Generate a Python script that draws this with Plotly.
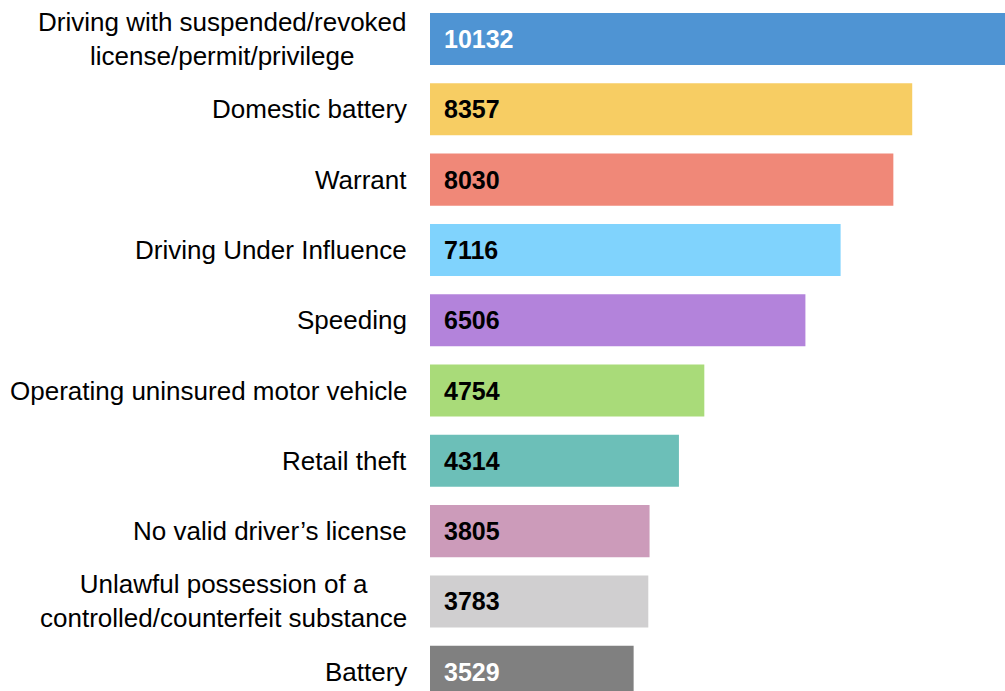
import plotly.graph_objects as go

categories = [
    "Driving with suspended/revoked<br>license/permit/privilege",
    "Domestic battery",
    "Warrant",
    "Driving Under Influence",
    "Speeding",
    "Operating uninsured motor vehicle",
    "Retail theft",
    "No valid driver’s license",
    "Unlawful possession of a<br>controlled/counterfeit substance",
    "Battery",
]
values = [10132, 8357, 8030, 7116, 6506, 4754, 4314, 3805, 3783, 3529]
bar_colors = ["#4F94D3", "#F7CD63", "#F08878", "#80D3FD", "#B383DB",
              "#A9DB79", "#6CBFB8", "#CC9BBA", "#D0CFD0", "#808080"]
text_colors = ["white", "black", "black", "black", "black",
               "black", "black", "black", "black", "white"]

idx = list(range(len(categories)))

fig = go.Figure(go.Bar(
    x=values, y=idx, orientation="h",
    marker=dict(color=bar_colors, line=dict(width=0)),
    hoverinfo="skip",
))

FONT = "Liberation Sans, Arial, sans-serif"
for i, (c, v, tc) in enumerate(zip(categories, values, text_colors)):
    fig.add_annotation(x=0, y=i, xref="x", yref="y", text=c, showarrow=False,
                       xanchor="right", yanchor="middle", align="center", xshift=-21,
                       font=dict(family=FONT, size=26, color="black"))
    fig.add_annotation(x=0, y=i, xref="x", yref="y", text=f"<b>{v}</b>", showarrow=False,
                       xanchor="left", yanchor="middle", xshift=12,
                       font=dict(family=FONT, size=25, color=tc))

fig.update_layout(
    width=1005, height=691,
    margin=dict(l=430, r=0, t=0, b=0),
    paper_bgcolor="white", plot_bgcolor="white",
    bargap=0.26, showlegend=False,
    xaxis=dict(range=[0, 9965], visible=False, fixedrange=True),
    yaxis=dict(range=[9.274, -0.555], visible=False, fixedrange=True),
)

fig.write_html("out.html", config={"displayModeBar": False},
               post_script="document.body.style.margin='0';document.body.style.overflow='hidden';")
